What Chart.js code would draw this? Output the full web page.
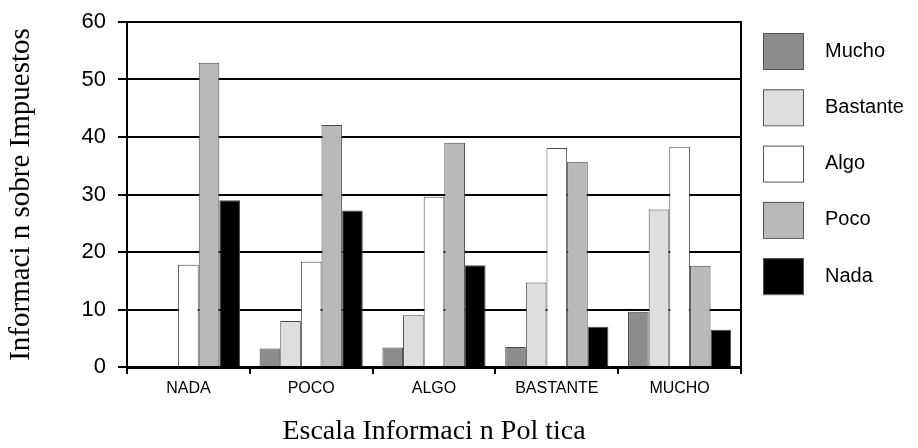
<!DOCTYPE html>
<html>
<head>
<meta charset="utf-8">
<script src="https://cdn.jsdelivr.net/npm/chart.js@4"></script>
<style>
  html, body { margin: 0; padding: 0; background: #fff; }
  #wrap { width: 918px; height: 448px; }
</style>
</head>
<body>
<div id="wrap"><canvas id="myChart"></canvas></div>
<script>
const categories = ["NADA", "POCO", "ALGO", "BASTANTE", "MUCHO"];
const seriesNames = ["Mucho", "Bastante", "Algo", "Poco", "Nada"];
const mucho = [0, 3.2, 3.4, 3.5, 9.6];
const bastante = [0, 8.0, 9.0, 14.7, 27.4];
const algo = [17.8, 18.3, 29.6, 38.1, 38.3];
const poco = [52.9, 42.1, 39.0, 35.7, 17.6];
const nada = [29.0, 27.2, 17.7, 7.0, 6.5];
const yTicks = [0, 10, 20, 30, 40, 50, 60];

const fills = ["#8c8c8c", "#dedede", "#ffffff", "#b9b9b9", "#000000"];
const values = [mucho, bastante, algo, poco, nada];

// frame round the plot + legend on the right
const framePlugin = {
  id: "frame",
  afterDraw(chart) {
    const { ctx, chartArea: a } = chart;
    ctx.save();
    ctx.strokeStyle = "#000";
    ctx.lineWidth = 2;
    ctx.beginPath();
    ctx.moveTo(a.left, a.top);
    ctx.lineTo(a.right, a.top);
    ctx.lineTo(a.right, a.bottom);
    ctx.stroke();

    ctx.font = "20px 'Liberation Sans', Arial, sans-serif";
    ctx.textBaseline = "middle";
    chart.data.datasets.forEach((ds, i) => {
      const top = 33 + i * 56.3;
      ctx.fillStyle = ds.backgroundColor;
      ctx.fillRect(763, top, 40, 36);
      ctx.strokeStyle = "#555";
      ctx.lineWidth = 1;
      ctx.strokeRect(763.5, top + 0.5, 40, 36);
      ctx.fillStyle = "#000";
      ctx.fillText(ds.label, 825, top + 18);
    });
    ctx.restore();
  },
};

new Chart(document.getElementById("myChart"), {
  type: "bar",
  data: {
    labels: categories,
    datasets: seriesNames.map((name, i) => ({
      label: name,
      data: values[i],
      backgroundColor: fills[i],
      borderColor: "#4a4a4a",
      borderWidth: 1,
      categoryPercentage: 0.84,
      barPercentage: 1,
    })),
  },
  options: {
    responsive: true,
    maintainAspectRatio: false,
    animation: false,
    layout: { padding: { top: 22, right: 177, left: 0, bottom: 0 } },
    plugins: {
      legend: { display: false },
      tooltip: { enabled: false },
    },
    scales: {
      x: {
        afterFit(scale) { scale.height = 81; },
        grid: {
          offset: true,
          drawOnChartArea: false,
          color: "#000",
          lineWidth: 2,
          tickLength: 7,
        },
        border: { color: "#000", width: 3 },
        ticks: {
          color: "#000",
          padding: 5,
          font: { family: "'Liberation Sans', Arial, sans-serif", size: 16 },
        },
        title: {
          display: true,
          text: "Escala Informaci n Pol tica",
          color: "#000",
          padding: { top: 0, bottom: 0 },
          font: { family: "'Liberation Serif', 'Times New Roman', serif", size: 28 },
        },
      },
      y: {
        min: 0,
        max: 60,
        afterFit(scale) {
          scale.width = 127;
          scale.paddingTop = 0;
          scale.paddingBottom = 0;
        },
        afterBuildTicks(scale) { scale.ticks = yTicks.map((v) => ({ value: v })); },
        grid: { color: "#000", lineWidth: 2, tickLength: 9 },
        border: { color: "#000", width: 2 },
        ticks: {
          color: "#000",
          padding: 12,
          font: { family: "'Liberation Sans', Arial, sans-serif", size: 22 },
        },
        title: {
          display: true,
          text: "Informaci n sobre Impuestos",
          color: "#000",
          padding: { top: 4, bottom: 0 },
          font: { family: "'Liberation Serif', 'Times New Roman', serif", size: 29 },
        },
      },
    },
  },
  plugins: [framePlugin],
});
</script>
</body>
</html>
